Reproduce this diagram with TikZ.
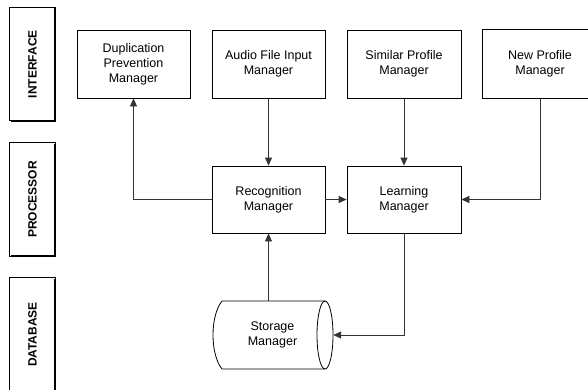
\documentclass[tikz,border=0pt]{standalone}
\usepackage{fontspec}
\setmainfont{Liberation Sans}
\usetikzlibrary{arrows.meta}

\tikzset{
  mgr/.style={draw=black, line width=0.8pt, minimum width=113pt, minimum height=68pt,
    align=center, inner sep=0pt, font=\fontsize{12.5}{15}\selectfont},
  lane/.style={minimum width=45pt, minimum height=113pt, inner sep=0pt},
  lanetext/.style={rotate=90, font=\bfseries\fontsize{12}{14}\selectfont},
  arr/.style={draw=black!80, line width=0.8pt, -{Triangle[length=8pt,width=7pt]}},
}

\newcommand{\lanebox}[2]{%
  \draw[line width=0.9pt] (#1.north west) rectangle (#1.south east);
  \draw[line width=1.6pt] ([yshift=-1pt]#1.north east) -- (#1.south east) -- ([xshift=1pt]#1.south west);
  \node[lanetext] at (#1) {#2};
}

\begin{document}
\begin{tikzpicture}[x=1pt, y=-1pt]
  \useasboundingbox (0,0) rectangle (588,389);
  \clip (0,0) rectangle (588,389);

  % layer labels on the left
  \node[lane] (li) at (32.5,64) {};
  \node[lane] (lp) at (32.5,199.5) {};
  \node[lane] (ld) at (32.5,334.5) {};
  \lanebox{li}{INTERFACE}
  \lanebox{lp}{PROCESSOR}
  \lanebox{ld}{DATABASE}

  % interface managers
  \node[mgr] (dup) at (133.5,64) {Duplication\\Prevention\\Manager};
  \node[mgr] (aud) at (268.5,64) {Audio File Input\\Manager};
  \node[mgr, minimum width=114pt] (sim) at (404,64) {Similar Profile\\Manager};
  % this box runs past the right border, so its right side is not drawn
  \node[mgr, draw=none, minimum width=114pt] (new) at (540,64) {New Profile\\Manager};
  \draw[line width=0.8pt] (new.north east) -- (new.north west) -- (new.south west) -- (new.south east);

  % processor managers
  \node[mgr, minimum height=67pt] (rec) at (268.5,199.5) {Recognition\\Manager};
  \node[mgr, minimum width=114pt, minimum height=67pt] (lrn) at (404,199.5) {Learning\\Manager};

  % storage (data store shape)
  \node[minimum width=121pt, minimum height=68pt, inner sep=0pt, align=center,
        font=\fontsize{12.5}{15}\selectfont] (sto) at (272.5,335) {Storage\\Manager};
  \draw[line width=0.8pt]
    (222,301) .. controls (210,316) and (210,354) .. (222,369) -- (325,369)
    (222,301) -- (325,301);
  \draw[line width=0.8pt] (325,335) ellipse [x radius=8, y radius=34];

  % connectors
  \draw[arr] (rec.west) -| (dup.south);
  \draw[arr] (aud.south) -- (rec.north);
  \draw[arr] (sim.south) -- (lrn.north);
  \draw[arr] (rec.east) -- (lrn.west);
  \draw[arr] (new.south) |- (lrn.east);
  \draw[arr] (rec.south |- sto.north) -- (rec.south);
  \draw[arr] (lrn.south) |- (sto.east);
\end{tikzpicture}
\end{document}
